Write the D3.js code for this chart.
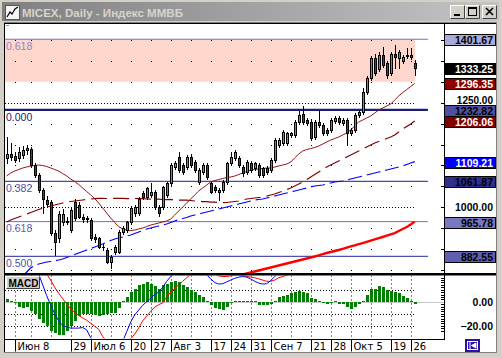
<!DOCTYPE html>
<html><head><meta charset="utf-8">
<script src="https://cdn.jsdelivr.net/npm/d3@7"></script>
<style>html,body{margin:0;padding:0;background:#d4d0c8;overflow:hidden}</style>
</head><body>
<svg id="c" width="502" height="358"></svg>
<script>
// ---------------- DATA ----------------
const titleText = "MICEX, Daily - Индекс ММВБ";
const dateLabels = ["Июн 8","29","Июл 6","20","27","Авг 3","17","24","31","Сен 7","21","28","Окт 5","19","26"];
const dateLabelBars = [2,16,21,31,36,41,51,56,61,66,76,81,86,96,101];
const mondayBars = [2,6,11,16,21,26,31,36,41,46,51,56,61,66,71,76,81,86,91,96,101];

const open = [1117,1128,1122,1119,1125,1136,1139,1101,1077,1041,
1017,1013,938,926,965,968,945,1013,1005,978,
974,969,928,926,906,898,870,894,894,942,
945,965,986,986,1033,1025,1029,1037,1001,1001,
1029,1057,1097,1121,1101,1097,1121,1109,1061,1085,
1101,1057,1049,1037,1041,1061,1105,1117,1117,1097,
1085,1105,1093,1101,1093,1095,1089,1113,1149,1153,
1154,1173,1173,1205,1223,1209,1205,1169,1205,1197,
1185,1185,1207,1213,1201,1209,1177,1185,1221,1228,
1276,1309,1357,1330,1364,1345,1321,1366,1357,1350,
1364,1364,1345];
const high = [1167,1153,1132,1144,1146,1150,1144,1106,1082,1046,
1028,1018,945,992,995,976,998,1020,1012,985,
980,975,935,930,912,902,886,910,946,955,
968,1002,1005,1025,1040,1049,1057,1042,1006,1052,
1060,1105,1110,1133,1106,1125,1127,1113,1093,1106,
1106,1061,1053,1045,1065,1109,1133,1137,1122,1101,
1113,1110,1109,1105,1097,1099,1117,1165,1166,1185,
1181,1181,1209,1231,1242,1213,1210,1209,1233,1202,
1190,1213,1218,1218,1213,1213,1190,1225,1232,1285,
1313,1362,1366,1371,1383,1350,1371,1388,1376,1364,
1381,1381,1352];
const low = [1105,1112,1108,1110,1118,1128,1097,1072,1036,986,
1002,933,886,918,958,960,940,970,975,965,
966,922,918,902,898,866,854,888,890,936,
940,960,980,982,1020,1020,1025,996,980,996,
1024,1052,1092,1084,1080,1092,1096,1084,1056,1080,
1068,1033,1036,1017,1036,1056,1100,1112,1096,1076,
1080,1084,1088,1072,1072,1080,1084,1109,1144,1148,
1149,1168,1168,1200,1200,1196,1160,1164,1192,1172,
1172,1180,1202,1200,1196,1149,1172,1180,1216,1224,
1270,1304,1316,1325,1335,1310,1316,1333,1333,1345,
1358,1355,1316];
const close = [1128,1120,1113,1133,1137,1142,1101,1077,1041,1021,
1009,938,918,985,985,966,993,974,978,972,
973,926,925,906,904,870,882,906,942,950,
965,998,1001,1021,1025,1045,1037,1001,986,1049,
1057,1101,1105,1089,1085,1121,1101,1089,1089,1101,
1073,1037,1041,1041,1061,1105,1121,1133,1101,1081,
1109,1089,1105,1077,1077,1085,1113,1161,1162,1181,
1177,1177,1205,1221,1205,1201,1165,1205,1197,1177,
1177,1209,1213,1205,1209,1177,1185,1221,1228,1276,
1309,1357,1321,1364,1340,1316,1366,1359,1371,1359,
1361,1359,1333.25];

const maFast = [1074.8,1082.0,1086.7,1090.3,1093.9,1096.3,1098.7,1099.9,1101.1,1099.9,
1097.5,1093.9,1090.3,1086.7,1080.7,1074.8,1067.6,1061.6,1054.4,1046.1,
1037.7,1029.4,1021.0,1010.2,998.3,986.3,974.4,963.6,954.1,948.1,
945.7,944.5,945.7,948.1,950.5,954.1,957.6,960.0,962.4,964.8,
967.2,972.0,981.5,991.1,1000.7,1010.2,1019.8,1029.4,1038.9,1046.1,
1053.3,1060.4,1064.0,1066.4,1068.8,1071.2,1072.4,1074.8,1078.4,1082.0,
1085.5,1089.1,1090.3,1091.5,1092.7,1093.9,1093.9,1096.3,1098.7,1101.1,
1103.4,1108.2,1117.8,1127.3,1134.5,1138.1,1140.5,1142.9,1146.5,1151.2,
1156.0,1160.8,1164.4,1168.0,1172.8,1177.5,1184.7,1194.3,1203.8,1208.6,
1213.4,1218.2,1225.3,1232.5,1237.3,1242.1,1246.8,1256.4,1265.9,1274.3,
1281.5,1288.7,1296.35];
const maMid = [964.8,969.6,973.2,976.8,980.4,983.9,987.5,991.1,994.7,998.3,
1000.7,1003.1,1005.5,1007.8,1010.2,1012.6,1013.8,1015.0,1016.2,1017.4,
1018.6,1019.8,1020.6,1021.2,1021.4,1021.0,1020.8,1021.3,1021.5,1021.1,
1020.7,1021.0,1021.2,1020.8,1020.5,1019.8,1019.6,1019.9,1019.5,1018.6,
1018.4,1018.7,1017.4,1017.2,1017.5,1017.1,1016.2,1015.0,1014.8,1013.8,
1013.6,1012.6,1012.3,1011.4,1011.2,1011.5,1012.6,1013.8,1015.0,1017.4,
1019.8,1021.0,1022.2,1023.4,1024.6,1027.0,1029.4,1031.7,1035.3,1038.9,
1042.5,1046.1,1050.9,1055.6,1060.4,1066.4,1072.4,1078.4,1084.3,1090.3,
1096.3,1101.1,1105.8,1110.6,1115.4,1120.2,1125.0,1129.7,1134.5,1139.3,
1144.1,1148.9,1153.6,1157.2,1160.8,1164.4,1168.0,1172.8,1179.9,1187.1,
1193.1,1199.0,1206.06];
const maSlow = [null,null,null,null,835.8,845.3,854.9,860.9,864.4,866.8,
869.2,870.4,871.6,874.0,876.4,880.0,883.6,887.2,890.7,894.3,
897.9,901.5,905.1,908.7,912.2,917.0,920.6,924.2,926.6,929.0,
931.4,933.8,937.3,940.9,944.5,948.1,950.5,952.9,955.3,957.7,
960.0,963.6,967.2,970.8,973.2,975.6,979.2,981.6,983.9,986.3,
988.7,991.1,993.5,995.9,998.3,1000.7,1003.1,1005.5,1007.8,1010.2,
1012.6,1015.0,1017.4,1018.6,1019.8,1022.2,1024.6,1027.0,1029.4,1031.7,
1034.1,1036.5,1038.9,1041.3,1043.7,1046.1,1048.5,1050.9,1052.1,1053.3,
1055.6,1058.0,1060.4,1061.6,1062.8,1065.2,1067.6,1070.0,1072.4,1074.8,
1077.2,1079.5,1081.9,1084.3,1086.7,1089.1,1091.5,1093.9,1096.3,1098.7,
1102.3,1105.8,1109.21];
const maLong = [null,null,null,null,null,null,null,null,null,null,
null,null,null,null,null,null,null,null,null,null,
null,null,null,null,null,null,null,null,null,null,
null,null,null,null,null,null,null,null,null,null,
null,null,null,null,null,null,null,null,null,null,
null,null,null,null,null,null,null,null,835.8,839.4,
841.7,844.1,846.5,848.9,851.3,853.7,856.1,858.5,860.9,863.3,
865.6,868.0,870.4,872.8,875.2,877.6,880.0,882.4,885.2,887.9,
890.7,893.1,895.5,897.9,900.8,903.6,906.5,909.1,911.8,914.6,
917.5,920.4,923.2,926.1,929.0,932.1,935.2,938.5,943.3,948.1,
952.9,958.9,965.78];

const macdHist = [2,1,-1,-4,-5,-4,-8,-10,-14,-18,
-20,-24,-26,-28,-28,-24,-20,-16,-12,-10,
-10,-10,-11,-12,-11,-10,-9,-9,-5,0.5,
4,8,11,14,15,16,15,13,11,14,
15,16,17,16,14,12,10,8,6,4,
0.5,-3,-5,-6,-7,-4,-1,1,1,0.4,
0.4,0.4,0.4,-3,-3,-3,-2,1,4,5,
6,7,8,9,8,7,3,2,1,-1,
-2,-1,0.4,-2,-2,-4,-6,-4,-2,1,
6,11,11,13,12,10,9,8,7,5,
3,1,-2];
const macdMain = [35,36,36,35,34,33,31,27,23,14,
5,-3,-10,-16,-20,-21,-22,-22,-22,-21.5,
-23.5,-30,-35,-37,-39,-41,-42,-41,-38,-33,
-25,-17,-11,-7,-3,0,3,6,8,12,
17,21,26,30,32,33,32,30,28,25,
22.5,19,16,14.7,15,16.5,18,19.5,20.5,21,
20.5,19,17,15.5,14.7,15,17.5,21,24,28,
31,33,35,37,38,37,35,33,31,29,
27,26,25,24,23.5,23,22.5,23,25,28,
32,37,41,44,46,47,47,46,45,44,
43,41,39];
const macdSignal = [22,22.5,23,24,25,25.5,26,26.5,26.5,25.5,
23,18,12,7,2.5,-2,-6,-9,-11.5,-13.5,
-15.5,-18,-20.5,-23,-29,-33,-36,-37,-37,-36,
-34,-31,-27,-22,-16,-12,-8,-4.5,-2.5,-1,
4,8,11,14,17,20,23,25,26,27,
26,24.5,23,21.5,21,21,21.5,22,22.5,22,
21,20.5,20,19,18,17,17,18,20,21,
22,23.5,25,26,27,28,29,29.5,29.5,29,
28.5,28,27.5,27,26,25.5,25,24.5,24.5,25,
26,28,30,32,34,36,38,39,40,40.5,
41,41,40.5];

const fibLevels = [1401.67, 1232.82, 1061.87, 965.78, 882.55];
const fibLabels = ["0.618", "0.000", "0.382", "0.618", "0.500"];
const zoneTop = 1401.67, zoneBottom = 1300;
const priceGridLevels = [850,900,950,1000,1050,1100,1150,1200,1250,1300,1350,1400];
const priceLabelLevels = [1250, 1000];
const markerValues = [1401.67, 1333.25, 1296.35, 1232.82, 1206.06, 1109.21, 1061.87, 965.78, 882.55];
const macdGridLevels = [10, -10, -20];
const macdLabelLevels = [0, -20];

// ---------------- STYLES ----------------
const markerStyle = [
  {fill:"#aaaad8", text:"#000"}, {fill:"#000000", text:"#fff"}, {fill:"#8c0000", text:"#fff"},
  {fill:"#5050a0", text:"#000"}, {fill:"#800000", text:"#fff"}, {fill:"#0000ff", text:"#fff"},
  {fill:"#30308c", text:"#000"}, {fill:"#7878be", text:"#000"}, {fill:"#5f5faf", text:"#000"}];
const fibStyle = [
  {stroke:"#7070c0", w:1.2, text:"#8888cc"}, {stroke:"#1c1c78", w:2.4, text:"#1c1c78"},
  {stroke:"#4848a8", w:1.2, text:"#5050a8"}, {stroke:"#7070c0", w:1, text:"#6060b0"},
  {stroke:"#5050b0", w:1.2, text:"#5050a8"}];

const N = close.length;
const svg = d3.select("#c");
const L = {left:5, paneRight:444, axisRight:496, top:24, priceBottom:273, macdTop:275.5, macdBottom:338.5, dateBottom:352};

// ---------------- WINDOW FRAME ----------------
svg.append("rect").attr("width",502).attr("height",358).attr("fill","#d4d0c8");
const defs = svg.append("defs");
const g1 = defs.append("linearGradient").attr("id","tb").attr("x1","0").attr("x2","1");
g1.append("stop").attr("offset","0").attr("stop-color","#808080");
g1.append("stop").attr("offset","1").attr("stop-color","#c4c4c4");
svg.append("rect").attr("x",2).attr("y",2).attr("width",497).attr("height",19).attr("fill","url(#tb)");
svg.append("rect").attr("x",5.5).attr("y",5.5).attr("width",14).attr("height",14).attr("fill","#f4f4f4").attr("stroke","#3c6a3c");
svg.append("polyline").attr("points","7,17 10,12 12,14 15,9 18,7").attr("fill","none").attr("stroke","#000").attr("stroke-width",1.2);
svg.append("text").attr("x",22).attr("y",16.5).attr("font-family","Liberation Sans, Arial, sans-serif")
  .attr("font-weight","bold").attr("font-size",11.5).attr("fill","#d8d4cc")
  .attr("textLength",161).attr("lengthAdjust","spacingAndGlyphs").text(titleText);
[[450,"min"],[465,"max"],[482,"close"]].forEach(([bx,k])=>{
  const b = svg.append("g").attr("transform",`translate(${bx},5)`);
  b.append("rect").attr("width",15).attr("height",14).attr("fill","#d4d0c8");
  b.append("path").attr("d","M0.5,13.5 V0.5 H14.5").attr("stroke","#fff").attr("fill","none");
  b.append("path").attr("d","M0.5,13.5 H14.5 V0.5").attr("stroke","#404040").attr("fill","none");
  if(k==="min") b.append("rect").attr("x",4).attr("y",9).attr("width",6).attr("height",2).attr("fill","#000");
  if(k==="max"){ b.append("rect").attr("x",3.5).attr("y",2.5).attr("width",8).attr("height",8).attr("fill","none").attr("stroke","#000");
    b.append("rect").attr("x",3).attr("y",2).attr("width",9).attr("height",2).attr("fill","#000"); }
  if(k==="close") b.append("path").attr("d","M4,3 L11,10 M11,3 L4,10").attr("stroke","#000").attr("stroke-width",1.6);
});
svg.append("rect").attr("x",4).attr("y",22).attr("width",493).attr("height",331).attr("fill","#808080");
svg.append("rect").attr("x",L.left).attr("y",L.top).attr("width",L.axisRight-L.left).attr("height",L.dateBottom-L.top).attr("fill","#fff");
svg.append("line").attr("x1",4).attr("x2",497).attr("y1",23.5).attr("y2",23.5).attr("stroke","#000");
svg.append("line").attr("x1",4.5).attr("x2",4.5).attr("y1",23).attr("y2",353).attr("stroke","#000");

// ---------------- SCALES ----------------
const xs = d3.scaleLinear().domain([0, N-1]).range([6.7, 414.7]);
const yP = d3.scaleLinear().domain([1000, 1250]).range([207.3, 102.7]);
const yM = d3.scaleLinear().domain([0, -20]).range([301.7, 325.7]);
const cx = i => Math.round(xs(i));
const gridRight = xs(N-1) + 1;

defs.append("clipPath").attr("id","cp").append("rect").attr("x",L.left).attr("y",L.top+1).attr("width",L.paneRight-L.left).attr("height",L.priceBottom-L.top-1);
defs.append("clipPath").attr("id","cm").append("rect").attr("x",L.left).attr("y",L.macdTop).attr("width",L.paneRight-L.left).attr("height",L.macdBottom-L.macdTop);

// ---------------- PRICE PANE ----------------
const pp = svg.append("g").attr("clip-path","url(#cp)");
pp.append("rect").attr("x",L.left).attr("y",yP(zoneTop)).attr("width",xs(N-1)+0.5-L.left)
  .attr("height",yP(zoneBottom)-yP(zoneTop)).attr("fill","#ffd6cc");
priceGridLevels.forEach(v=>{
  const y = Math.round(yP(v))+0.5;
  if(priceLabelLevels.includes(v)){
    pp.append("line").attr("x1",L.left).attr("x2",gridRight).attr("y1",y).attr("y2",y)
      .attr("stroke","#000").attr("stroke-dasharray","1,2");
  } else {
    mondayBars.forEach(b=>{
      pp.append("rect").attr("x",cx(b)).attr("y",y-0.5).attr("width",1).attr("height",1).attr("fill","#000");
    });
  }
});
const fibEnd = xs(105.3);
fibLevels.forEach((v,k)=>{
  const y = yP(v);
  pp.append("line").attr("x1",L.left).attr("x2",fibEnd).attr("y1",y).attr("y2",y)
    .attr("stroke",fibStyle[k].stroke).attr("stroke-width",fibStyle[k].w);
  pp.append("text").attr("x",6).attr("y",y+10.8).attr("font-family","Liberation Sans, Arial, sans-serif")
    .attr("font-size",10.5).attr("fill",fibStyle[k].text).text(fibLabels[k]);
});
const line = arr => d3.line().defined(d=>d!=null).x((d,i)=>xs(i)).y(d=>yP(d))(arr);
pp.append("path").attr("d",line(maLong)).attr("fill","none").attr("stroke","#ff0000").attr("stroke-width",2.4);
pp.append("path").attr("d",line(maSlow)).attr("fill","none").attr("stroke","#0000ff").attr("stroke-width",1.2).attr("stroke-dasharray","14,5");
pp.append("path").attr("d",line(maMid)).attr("fill","none").attr("stroke","#800000").attr("stroke-width",1.2).attr("stroke-dasharray","16,6");
pp.append("path").attr("d",line(maFast)).attr("fill","none").attr("stroke","#9b1010").attr("stroke-width",1);
for(let i=0;i<N;i++){
  const x = cx(i);
  pp.append("line").attr("x1",x+0.5).attr("x2",x+0.5).attr("y1",Math.round(yP(high[i]))).attr("y2",Math.round(yP(low[i]))+1)
    .attr("stroke","#000");
  const top = Math.round(yP(Math.max(open[i],close[i]))), bot = Math.round(yP(Math.min(open[i],close[i])));
  if(bot-top < 1){
    pp.append("line").attr("x1",x-1).attr("x2",x+2).attr("y1",top+0.5).attr("y2",top+0.5).attr("stroke","#000");
  } else {
    pp.append("rect").attr("x",x-0.5).attr("y",top+0.5).attr("width",2).attr("height",bot-top)
      .attr("fill", close[i]>=open[i] ? "#00e000" : "#ee0000").attr("stroke","#000");
  }
}
svg.append("rect").attr("x",6).attr("y",25).attr("width",3).attr("height",1).attr("fill","#909090");

// ---------------- MACD PANE ----------------
const mp = svg.append("g").attr("clip-path","url(#cm)");
macdGridLevels.forEach(v=>{
  const y = Math.round(yM(v))+0.5;
  mp.append("line").attr("x1",L.left).attr("x2",gridRight).attr("y1",y).attr("y2",y).attr("stroke","#000").attr("stroke-dasharray","1,2");
});
mondayBars.forEach(b=>{
  mp.append("line").attr("x1",cx(b)+0.5).attr("x2",cx(b)+0.5).attr("y1",L.macdTop).attr("y2",L.macdBottom)
    .attr("stroke","#000").attr("stroke-dasharray","1,3");
});
mp.append("line").attr("x1",L.left).attr("x2",L.paneRight).attr("y1",Math.round(yM(0))+0.5).attr("y2",Math.round(yM(0))+0.5).attr("stroke","#c8c8c8");
macdHist.forEach((v,i)=>{
  const y0 = Math.round(yM(0)), y1 = Math.round(yM(v));
  mp.append("rect").attr("x",cx(i)-1).attr("width",3).attr("y",Math.min(y0,y1)).attr("height",Math.max(1,Math.abs(y1-y0)))
    .attr("fill","#008000");
});
const mline = arr => d3.line().x((d,i)=>xs(i)).y(d=>yM(d))(arr);
mp.append("path").attr("d",mline(macdSignal)).attr("fill","none").attr("stroke","#ff0000");
mp.append("path").attr("d",mline(macdMain)).attr("fill","none").attr("stroke","#0000ff");
svg.append("rect").attr("x",6).attr("y",276).attr("width",34).attr("height",13).attr("fill","#d4d0c8");
svg.append("path").attr("d","M6.5,288.5 V276.5 H39.5").attr("stroke","#fff").attr("fill","none");
svg.append("path").attr("d","M6.5,288.5 H39.5 V276.5").attr("stroke","#404040").attr("fill","none");
svg.append("text").attr("x",8.5).attr("y",286.5).attr("font-family","Liberation Sans, Arial, sans-serif")
  .attr("font-weight","bold").attr("font-size",10).attr("fill","#000").text("MACD");

// ---------------- PANE BORDERS ----------------
svg.append("rect").attr("x",L.left).attr("y",L.priceBottom).attr("width",L.axisRight-L.left).attr("height",2.5).attr("fill","#000");
svg.append("line").attr("x1",L.paneRight+0.5).attr("x2",L.paneRight+0.5).attr("y1",L.top).attr("y2",340).attr("stroke","#000");
svg.append("line").attr("x1",L.left).attr("x2",L.paneRight+1).attr("y1",339.5).attr("y2",339.5).attr("stroke","#000");
svg.append("line").attr("x1",496.5).attr("x2",496.5).attr("y1",22).attr("y2",353).attr("stroke","#808080");
svg.append("line").attr("x1",4).attr("x2",497).attr("y1",352.5).attr("y2",352.5).attr("stroke","#808080");

// ---------------- PRICE AXIS ----------------
const mono = "Liberation Sans, Arial, sans-serif";
priceGridLevels.forEach(v=>{
  const y = Math.round(yP(v))+0.5;
  svg.append("line").attr("x1",L.paneRight-3).attr("x2",L.paneRight).attr("y1",y).attr("y2",y).attr("stroke","#000");
});
priceLabelLevels.forEach(v=>{
  const shift = v===1250 ? 1 : 4;
  svg.append("text").attr("x",493).attr("y",yP(v)+shift).attr("text-anchor","end").attr("font-family",mono)
    .attr("font-weight","bold").attr("font-size",v===1250?10:10.5).attr("fill","#000").text(d3.format(".2f")(v));
});
markerValues.forEach((v,k)=>{
  const yc = Math.round(yP(v));
  svg.append("rect").attr("x",L.paneRight+0.5).attr("y",yc-4.5).attr("width",51).attr("height",11)
    .attr("fill",markerStyle[k].fill).attr("stroke","#000");
  svg.append("text").attr("x",493).attr("y",yc+5).attr("text-anchor","end").attr("font-family",mono)
    .attr("font-weight","bold").attr("font-size",10.5).attr("fill",markerStyle[k].text).text(d3.format(".2f")(v));
});
d3.range(20,-26,-2).forEach(v=>{
  if(Math.abs(v)<1) return;
  const y = Math.round(yM(v))+0.5;
  svg.append("line").attr("x1",L.paneRight-3).attr("x2",L.paneRight).attr("y1",y).attr("y2",y).attr("stroke","#000");
});
macdLabelLevels.forEach(v=>{
  svg.append("text").attr("x",493).attr("y",yM(v)+4).attr("text-anchor","end").attr("font-family",mono)
    .attr("font-weight","bold").attr("font-size",10.5).attr("fill","#000").text(d3.format(".2f")(v));
});

// ---------------- DATE AXIS ----------------
dateLabelBars.forEach((b,k)=>{
  const x = cx(b)+0.5;
  svg.append("line").attr("x1",x).attr("x2",x).attr("y1",340).attr("y2",351.5).attr("stroke","#000");
  svg.append("text").attr("x",x+2).attr("y",350).attr("font-family","DejaVu Sans, sans-serif")
    .attr("font-size",10).attr("fill","#000").text(dateLabels[k]);
});
svg.append("rect").attr("x",465).attr("y",339).attr("width",15).attr("height",13).attr("fill","#2a12a8");
svg.append("rect").attr("x",467.5).attr("y",341.5).attr("width",10).attr("height",8).attr("fill","none").attr("stroke","#fff");
svg.append("path").attr("d","M470,342 V349 M476,343 L471.5,345.5 L476,348 Z").attr("stroke","#fff").attr("fill","#fff");
</script>
</body></html>
